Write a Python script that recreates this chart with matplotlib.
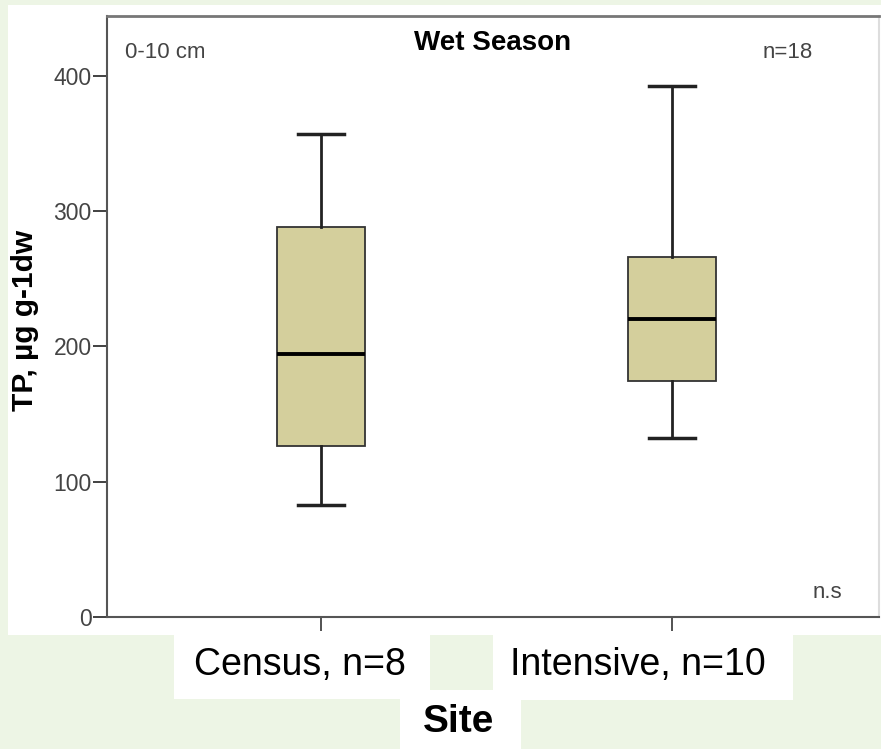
import matplotlib.pyplot as plt
from matplotlib.patches import Rectangle

# box statistics (TP, ug g-1 dw, 0-10 cm, wet season)
sites = ["Census, n=8", "Intensive, n=10"]
whislo = [83, 132]
q1 = [126, 174]
med = [194, 220]
q3 = [288, 266]
whishi = [357, 392]
yticks = [0, 100, 200, 300, 400]

W, H = 881, 749
fig = plt.figure(figsize=(W / 100, H / 100), dpi=100)
fig.patch.set_facecolor("#edf5e5")
plt.rcParams['font.family'] = ['Liberation Sans', 'DejaVu Sans']


def px(x0, y0, x1, y1):
    # pixel box -> figure fraction rectangle
    return (x0 / W, 1 - y1 / H), (x1 - x0) / W, (y1 - y0) / H


# white panels behind the chart and the labels
for box in [(8, 5, 881, 635), (174, 630, 430, 699), (493, 630, 793, 700), (400, 690, 521, 749)]:
    xy, w, h = px(*box)
    fig.patches.append(Rectangle(xy, w, h, transform=fig.transFigure, facecolor="white", edgecolor="none", zorder=-1))

ax = fig.add_axes([107 / W, 1 - 617 / H, (879 - 107) / W, (617 - 16) / H])
ax.set_zorder(1)
ax.set_facecolor("white")

stats = []
for i in range(len(sites)):
    stats.append({"whislo": whislo[i], "q1": q1[i], "med": med[i], "q3": q3[i],
                  "whishi": whishi[i], "fliers": [], "label": sites[i]})

ax.bxp(stats, positions=[1, 2], widths=0.25, capwidths=0.13, showfliers=False,
       patch_artist=True,
       boxprops=dict(facecolor="#d4cf9c", edgecolor="#333333", linewidth=1.3),
       medianprops=dict(color="black", linewidth=2.8),
       whiskerprops=dict(color="#222222", linewidth=2),
       capprops=dict(color="#222222", linewidth=2.5))

ax.set_xlim(0.39, 2.59)
ax.set_ylim(0, 444)
ax.set_yticks(yticks)
ax.set_xticks([1, 2])
ax.set_xticklabels(["", ""])
ax.tick_params(axis="y", length=10, width=1.3, color="#333333", labelsize=16.5, labelcolor="#444444", pad=1)
ax.tick_params(axis="x", length=10, width=1.3, color="#444444")
for s in ax.spines.values():
    s.set_color("#555555")
    s.set_linewidth(1.5)
ax.spines["top"].set_color("#777777")
ax.spines["top"].set_linewidth(2)
ax.spines["right"].set_color("#dddddd")

# annotations inside the plot
fig.text(125 / W, 1 - 52 / H, "0-10 cm", fontsize=16, color="#444444", va="center", zorder=3)
fig.text(493 / W, 1 - 43 / H, "Wet Season", fontsize=20, fontweight="bold", ha="center", va="center", zorder=3)
fig.text(763 / W, 1 - 52 / H, "n=18", fontsize=16, color="#444444", va="center", zorder=3)
fig.text(813 / W, 1 - 593 / H, "n.s", fontsize=16, color="#444444", va="center", zorder=3)

# y label and category labels
fig.text(25 / W, 1 - 320 / H, "TP, µg g-1dw", fontsize=21.5, fontweight="bold", rotation=90, ha="center", va="center")
fig.text(300 / W, 1 - 665 / H, sites[0], fontsize=27, ha="center", va="center")
fig.text(638 / W, 1 - 665 / H, sites[1], fontsize=27, ha="center", va="center")
fig.text(459 / W, 1 - 722 / H, "Site", fontsize=28, fontweight="bold", ha="center", va="center")

plt.savefig("out.png", dpi=100, facecolor=fig.get_facecolor())
